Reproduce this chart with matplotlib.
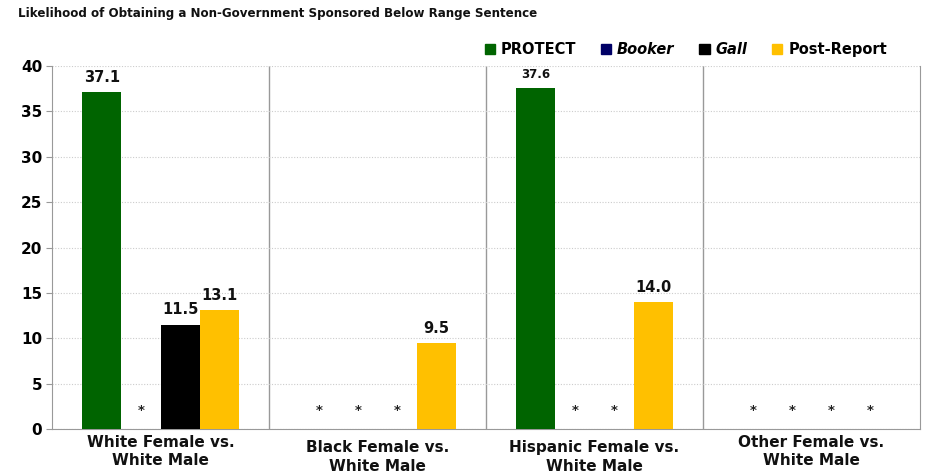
import matplotlib.pyplot as plt
import numpy as np

plt.rcParams['font.family'] = 'DejaVu Sans'

categories = ['White Female vs.\nWhite Male', 'Black Female vs.\nWhite Male',
              'Hispanic Female vs.\nWhite Male', 'Other Female vs.\nWhite Male']
series_names = ['PROTECT', 'Booker', 'Gall', 'Post-Report']
# None = no data (shown as *)
protect = [37.1, None, 37.6, None]
booker = [None, None, None, None]
gall = [11.5, None, None, None]
post_report = [13.1, 9.5, 14.0, None]
colors = ['#006400', '#000066', '#000000', '#FFC000']
label_y_shift = [0, -4, -4, 0]  # the category labels sit at uneven heights

fig = plt.figure(figsize=(9.26, 4.75), dpi=100)
ax = fig.add_axes([0.0562, 0.0968, 0.9373, 0.7642])

x = np.arange(len(categories))
w = 0.18
all_series = [protect, booker, gall, post_report]
for k, vals in enumerate(all_series):
    off = (k - 1.5) * w
    for i, v in enumerate(vals):
        if v is None:
            ax.text(x[i] + off, 2.0, '*', ha='center', va='center', fontsize=9.5,
                    fontweight='bold', color='#222222')
        else:
            ax.bar(x[i] + off, v, w, color=colors[k], zorder=3)
            fs = 8.5 if (k == 0 and i == 2) else 10.5
            ax.text(x[i] + off, v + 0.8, f'{v:.1f}', ha='center', va='bottom',
                    fontsize=fs, fontweight='bold', color='#111111')

ax.set_xlim(-0.5, 3.5)
ax.set_ylim(0, 40)
ax.set_yticks(range(0, 41, 5))
ax.yaxis.grid(True, linestyle=(0, (1, 1.5)), color='#cccccc', linewidth=0.8, zorder=0)
for b in [0.5, 1.5, 2.5]:
    ax.axvline(b, color='#999999', linewidth=1, zorder=1)
for s in ['left', 'right', 'bottom']:
    ax.spines[s].set_color('#999999')
ax.spines['top'].set_visible(False)
ax.tick_params(axis='y', length=4, color='#999999', labelsize=11, pad=3)
for t in ax.get_yticklabels():
    t.set_fontweight('bold')
ax.set_xticks([])

for i, c in enumerate(categories):
    ax.annotate(c, xy=(x[i], 0), xycoords='data', xytext=(0, -4 + label_y_shift[i]),
                textcoords='offset points', ha='center', va='top', fontsize=11,
                fontweight='bold', linespacing=1.3, color='#111111')

fig.text(0.019, 0.972, 'Likelihood of Obtaining a Non-Government Sponsored Below Range Sentence',
         fontsize=8.6, fontweight='bold', va='center', ha='left', color='#111111')

handles = [plt.Rectangle((0, 0), 1, 1, color=c) for c in colors]
leg = fig.legend(handles, series_names, loc='center right', bbox_to_anchor=(0.972, 0.895),
                 ncol=4, frameon=False, handlelength=0.7, handleheight=0.7,
                 handletextpad=0.4, columnspacing=1.7, fontsize=10.5)
for k, t in enumerate(leg.get_texts()):
    t.set_fontweight('bold')
    if series_names[k] in ('Booker', 'Gall'):
        t.set_fontstyle('italic')

fig.savefig('out.png', dpi=100)
